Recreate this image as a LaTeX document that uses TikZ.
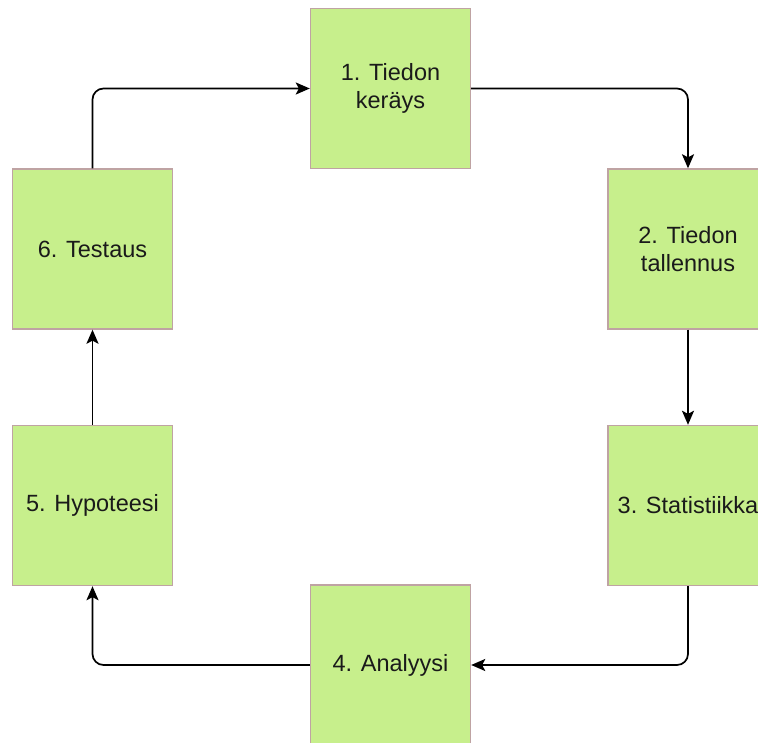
\documentclass[tikz,border=0pt]{standalone}
\usepackage{fontspec}
\setmainfont{Liberation Sans}
\usetikzlibrary{arrows.meta}
\definecolor{boxfill}{HTML}{C7EF8C}
\definecolor{boxline}{HTML}{BFA3A3}
\definecolor{txt}{HTML}{1A1A1A}
\begin{document}
\begin{tikzpicture}[x=1pt,y=-1pt,
  box/.style={draw=boxline, line width=1.4pt, fill=boxfill, minimum width=160pt, minimum height=160pt,
    inner sep=0pt, align=center, font=\fontsize{23.5}{28}\selectfont, text=txt},
  conn/.style={draw=black, line width=1.7pt, rounded corners=11pt,
    -{Stealth[length=14pt, width=12pt, inset=3pt]}}]
\useasboundingbox (0,0) rectangle (758,743);
\clip (0,0) rectangle (758,743);
\node[box] (b1) at (390.5,88.5) {1. Tiedon\\ keräys};
\node[box] (b2) at (688,249) {2. Tiedon\\ tallennus};
\node[box] (b3) at (688,505.5) {3. Statistiikka};
\node[box] (b4) at (390.5,665) {4. Analyysi};
\node[box] (b5) at (92.5,505.5) {5. Hypoteesi};
\node[box] (b6) at (92.5,249) {6. Testaus};
\draw[conn] (b6.north) |- (b1.west);
\draw[conn] (b1.east) -| (b2.north);
\draw[conn] (b2.south) -- (b3.north);
\draw[conn] (b3.south) |- (b4.east);
\draw[conn] (b4.west) -| (b5.south);
\draw[conn] (b5.north) -- (b6.south);
\end{tikzpicture}
\end{document}
